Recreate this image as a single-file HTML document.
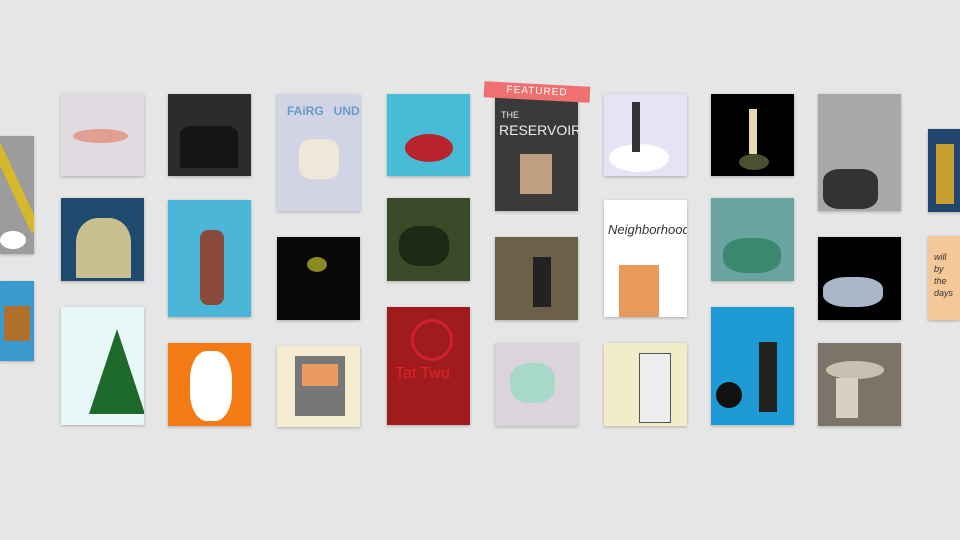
<!DOCTYPE html>
<html><head><meta charset="utf-8"><style>
body{margin:0;width:960px;height:540px;background:#e6e6e6;overflow:hidden;position:relative;font-family:"Liberation Sans",sans-serif}
.t{position:absolute;box-shadow:0 1px 3px rgba(0,0,0,.25);overflow:hidden}
.s{position:absolute;white-space:nowrap}
</style></head><body>
<div class="t" style="left:0;top:136px;width:34px;height:118px;background:#9c9c9c"><div class="s" style="left:10px;top:0;width:10px;height:100px;background:#d6b82c;transform:rotate(-25deg)"></div><div class="s" style="left:0;top:95px;width:26px;height:18px;background:#fff;border-radius:50%"></div></div>
<div class="t" style="left:0;top:281px;width:34px;height:80px;background:#3a9ad0"><div class="s" style="left:4px;top:25px;width:26px;height:35px;background:#b0702c"></div></div>

<div class="t" style="left:61px;top:94px;width:83px;height:82px;background:#e0dbe0"><div class="s" style="left:12px;top:35px;width:55px;height:14px;background:#e0a090;border-radius:50%"></div></div>
<div class="t" style="left:61px;top:198px;width:83px;height:83px;background:#1f4a6e"><div class="s" style="left:15px;top:20px;width:55px;height:60px;background:#c8c090;border-radius:40% 40% 0 0"></div></div>
<div class="t" style="left:61px;top:307px;width:83px;height:118px;background:#e8f8f8"><div class="s" style="left:28px;top:22px;width:0;height:0;border-left:28px solid transparent;border-right:28px solid transparent;border-bottom:85px solid #1e6a2a"></div></div>

<div class="t" style="left:168px;top:94px;width:83px;height:82px;background:#2c2c2c"><div class="s" style="left:12px;top:32px;width:58px;height:42px;background:#151515;border-radius:20% 20% 0 0"></div></div>
<div class="t" style="left:168px;top:200px;width:83px;height:117px;background:#4cb6d8"><div class="s" style="left:32px;top:30px;width:24px;height:75px;background:#8a4a3a;border-radius:8px"></div></div>
<div class="t" style="left:168px;top:343px;width:83px;height:83px;background:#f47a14"><div class="s" style="left:22px;top:8px;width:42px;height:70px;background:#fff;border-radius:40%"></div></div>

<div class="t" style="left:277px;top:94px;width:83px;height:117px;background:#d0d4e4"><div class="s" style="left:10px;top:10px;font-size:12px;color:#6a9ac8;font-weight:bold">FAiRG&nbsp;&nbsp;&nbsp;UND</div><div class="s" style="left:22px;top:45px;width:40px;height:40px;background:#efe8d8;border-radius:30%"></div></div>
<div class="t" style="left:277px;top:237px;width:83px;height:83px;background:#080808"><div class="s" style="left:30px;top:20px;width:20px;height:15px;background:#8a8a20;border-radius:50%"></div></div>
<div class="t" style="left:277px;top:346px;width:83px;height:81px;background:#f3ecd0"><div class="s" style="left:18px;top:10px;width:50px;height:60px;background:#777"></div><div class="s" style="left:25px;top:18px;width:36px;height:22px;background:#e89a60"></div></div>

<div class="t" style="left:387px;top:94px;width:83px;height:82px;background:#48bcd4"><div class="s" style="left:18px;top:40px;width:48px;height:28px;background:#b8242c;border-radius:50%"></div></div>
<div class="t" style="left:387px;top:198px;width:83px;height:83px;background:#3a4a28"><div class="s" style="left:12px;top:28px;width:50px;height:40px;background:#1a2a14;border-radius:40%"></div></div>
<div class="t" style="left:387px;top:307px;width:83px;height:118px;background:#a01c1c"><div class="s" style="left:24px;top:12px;width:36px;height:36px;border:3px solid #d02030;border-radius:50%"></div><div class="s" style="left:8px;top:58px;font-size:16px;color:#e02030">Tat Twu</div></div>

<div class="t" style="left:495px;top:94px;width:83px;height:117px;background:#3a3a3a"><div class="s" style="left:6px;top:16px;font-size:9px;color:#eee">THE</div><div class="s" style="left:4px;top:28px;font-size:14px;color:#eee;letter-spacing:0">RESERVOIR</div><div class="s" style="left:25px;top:60px;width:32px;height:40px;background:#c0a080"></div></div>
<div class="s" style="left:484px;top:84px;width:106px;height:16px;background:#ee7070;color:#fff;font-size:10px;text-align:center;line-height:16px;letter-spacing:1px;transform:rotate(3deg)">FEATURED</div>
<div class="t" style="left:495px;top:237px;width:83px;height:83px;background:#6c6048"><div class="s" style="left:38px;top:20px;width:18px;height:50px;background:#222"></div></div>
<div class="t" style="left:495px;top:343px;width:83px;height:83px;background:#dcd4dc"><div class="s" style="left:15px;top:20px;width:45px;height:40px;background:#a8d8c8;border-radius:40%"></div></div>

<div class="t" style="left:604px;top:94px;width:83px;height:82px;background:#e4e4f4"><div class="s" style="left:5px;top:50px;width:60px;height:28px;background:#fff;border-radius:50%"></div><div class="s" style="left:28px;top:8px;width:8px;height:50px;background:#333"></div></div>
<div class="t" style="left:604px;top:200px;width:83px;height:117px;background:#fff"><div class="s" style="left:4px;top:22px;font-size:13px;font-style:italic;color:#333">Neighborhood</div><div class="s" style="left:15px;top:65px;width:40px;height:52px;background:#e89a5c"></div></div>
<div class="t" style="left:604px;top:343px;width:83px;height:83px;background:#f3ecc8"><div class="s" style="left:35px;top:10px;width:30px;height:68px;background:#eee;border:1px solid #555"></div></div>

<div class="t" style="left:711px;top:94px;width:83px;height:82px;background:#000"><div class="s" style="left:28px;top:60px;width:30px;height:16px;background:#4a5030;border-radius:50%"></div><div class="s" style="left:38px;top:15px;width:8px;height:45px;background:#e8d8b0"></div></div>
<div class="t" style="left:711px;top:198px;width:83px;height:83px;background:#6aa4a0"><div class="s" style="left:12px;top:40px;width:58px;height:35px;background:#3a8870;border-radius:40%"></div></div>
<div class="t" style="left:711px;top:307px;width:83px;height:118px;background:#1e9ad4"><div class="s" style="left:5px;top:75px;width:26px;height:26px;background:#111;border-radius:50%"></div><div class="s" style="left:48px;top:35px;width:18px;height:70px;background:#222"></div></div>

<div class="t" style="left:818px;top:94px;width:83px;height:117px;background:#a8a8a8"><div class="s" style="left:5px;top:75px;width:55px;height:40px;background:#333;border-radius:30%"></div></div>
<div class="t" style="left:818px;top:237px;width:83px;height:83px;background:#000"><div class="s" style="left:5px;top:40px;width:60px;height:30px;background:#a8b8c8;border-radius:40%"></div></div>
<div class="t" style="left:818px;top:343px;width:83px;height:83px;background:#7c7468"><div class="s" style="left:8px;top:18px;width:58px;height:18px;background:#c8c0b0;border-radius:50%"></div><div class="s" style="left:18px;top:35px;width:22px;height:40px;background:#d8d0c0"></div></div>

<div class="t" style="left:928px;top:129px;width:32px;height:83px;background:#22466e"><div class="s" style="left:8px;top:15px;width:18px;height:60px;background:#c8a030"></div></div>
<div class="t" style="left:928px;top:236px;width:32px;height:84px;background:#f4c898"><div class="s" style="left:6px;top:15px;font-size:9px;color:#333;font-style:italic;line-height:12px">will<br>by<br>the<br>days</div></div>
</body></html>
